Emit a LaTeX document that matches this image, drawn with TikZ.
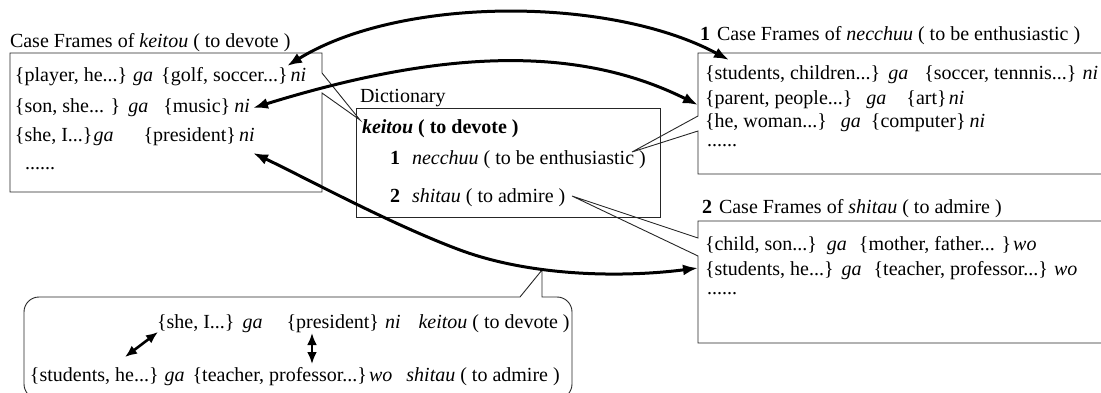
\documentclass[tikz,border=0pt]{standalone}
\usepackage{fontspec}
\setmainfont{Liberation Serif}
\usetikzlibrary{arrows.meta}
\begin{document}
\begin{tikzpicture}[x=1pt,y=-1pt,
  txt/.style={anchor=base west, inner sep=0pt, outer sep=0pt, font=\fontsize{20}{24}\selectfont},
  frame/.style={draw=black!85, line width=0.9pt, line join=miter},
  thickarr/.style={line width=3pt, {Latex[length=15pt,width=11pt]}-{Latex[length=15pt,width=11pt]}},
  smallarr/.style={line width=2.6pt, {Latex[length=12pt,width=10pt]}-{Latex[length=12pt,width=10pt]}}]
\useasboundingbox (0,0) rectangle (1101,393);

% ---------- left box: case frames of keitou
\node[txt] (Llab) at (10,48) {Case Frames of \textit{keitou} ( to devote )};
\coordinate (Ltip) at (360,120);
\draw[frame] (10,53) -- (322,53) -- (322,73) -- (Ltip) -- (322,93) -- (322,192) -- (10,192) -- cycle;
\node[txt] (L1) at (15,82) {\{player, he...\}\hspace{6pt}\textit{ga}\hspace{8pt}\{golf, soccer...\}\hspace{3pt}\textit{ni}};
\node[txt] (L2) at (15,113) {\{son, she... \}\hspace{8pt}\textit{ga}\hspace{15pt}\{music\}\hspace{4pt}\textit{ni}};
\node[txt] (L3) at (15,142) {\{she, I...\}\hspace{1pt}\textit{ga}\hspace{30pt}\{president\}\hspace{3pt}\textit{ni}};
\node[txt] (L4) at (25,170) {......};

% ---------- dictionary
\node[txt] (Dlab) at (360,103) {Dictionary};
\draw[frame] (356,108) rectangle (660,217);
\node[txt] (D1) at (362,134) {\textbf{\textit{keitou} ( to devote )}};
\node[txt] (D2) at (390,165) {\textbf{1}\hspace{12pt}\textit{necchuu} ( to be enthusiastic )};
\node[txt] (D3) at (390,202) {\textbf{2}\hspace{12pt}\textit{shitau} ( to admire )};

% ---------- necchuu box
\node[txt] (Nlab) at (700,41) {\textbf{1}\hspace{7pt}Case Frames of \textit{necchuu} ( to be enthusiastic )};
\coordinate (Ntip) at (632,152);
\draw[frame] (698,116) -- (698,53) -- (1105,53) -- (1105,174) -- (698,174) -- (698,131) -- (Ntip) -- cycle;
\node[txt] (N1) at (705,80) {\{students, children...\}\hspace{8pt}\textit{ga}\hspace{16pt}\{soccer, tennnis...\}\hspace{6pt}\textit{ni}};
\node[txt] (N2) at (705,105) {\{parent, people...\}\hspace{14pt}\textit{ga}\hspace{20pt}\{art\}\hspace{2pt}\textit{ni}};
\node[txt] (N3) at (705,128) {\{he, woman...\}\hspace{14pt}\textit{ga}\hspace{10pt}\{computer\}\hspace{4pt}\textit{ni}};
\node[txt] (N4) at (707,147) {......};

% ---------- shitau box
\node[txt] (Slab) at (702,213) {\textbf{2}\hspace{7pt}Case Frames of \textit{shitau} ( to admire )};
\coordinate (Stip) at (572,196);
\draw[frame] (698,238) -- (698,221) -- (1105,221) -- (1105,343) -- (698,343) -- (698,256) -- (Stip) -- cycle;
\node[txt] (S1) at (705,251) {\{child, son...\}\hspace{10pt}\textit{ga}\hspace{12pt}\{mother, father... \}\hspace{2pt}\textit{wo}};
\node[txt] (S2) at (705,275) {\{students, he...\}\hspace{8pt}\textit{ga}\hspace{12pt}\{teacher, professor...\}\hspace{6pt}\textit{wo}};
\node[txt] (S3) at (707,294) {......};

% ---------- bottom callout
\coordinate (Btip) at (542,270);
\draw[frame] (300,297) -- (520,297) -- (Btip) -- (542,297) -- (555,297) [rounded corners=15pt] -- (572,297) -- (572,399) -- (24,399) -- (24,297) -- cycle;
\node[txt] (B1) at (157,328) {\{she, I...\}\hspace{8pt}\textit{ga}\hspace{24pt}\{president\}\hspace{6pt}\textit{ni}\hspace{18pt}\textit{keitou} ( to devote )};
\node[txt] (B2) at (30,381) {\{students, he...\}\hspace{6pt}\textit{ga}\hspace{8pt}\{teacher, professor...\}\hspace{2pt}\textit{wo}\hspace{14pt}\textit{shitau} ( to admire )};

% ---------- thick arrows
\coordinate (a1L) at (287,66);
\coordinate (a1R) at (729,60);
\coordinate (a2L) at (253,108);
\coordinate (a2R) at (698,105);
\coordinate (a3L) at (253,153);
\coordinate (a3R) at (698,268);
\draw[thickarr] (a1L) .. controls (400,-4) and (610,-4) .. (a1R);
\draw[thickarr] (a2L) .. controls (450,47) and (582,47) .. (a2R);
\draw[thickarr] (a3L) .. controls (300,175) and (390,224) .. (460,250) .. controls (530,276) and (620,278) .. (a3R);

% ---------- small double arrows in callout
\coordinate (ba1) at (158,332);
\coordinate (ba2) at (125,357);
\coordinate (bb1) at (312,333);
\coordinate (bb2) at (312,364);
\draw[smallarr] (ba1) -- (ba2);
\draw[smallarr] (bb1) -- (bb2);
\end{tikzpicture}
\end{document}
